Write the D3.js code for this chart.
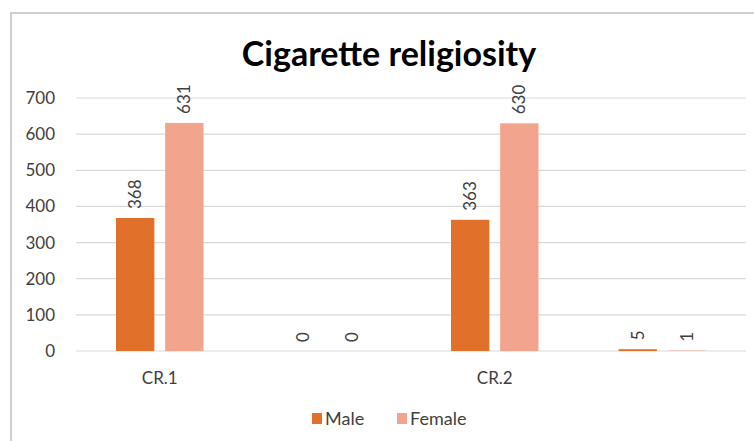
<!DOCTYPE html>
<html>
<head>
<meta charset="utf-8">
<script src="https://cdn.jsdelivr.net/npm/d3@7"></script>
<style>
  body { margin: 0; background: #fff; }
  svg { display: block; font-family: Lato, "Open Sans", sans-serif; }
</style>
</head>
<body>
<svg id="chart" width="754" height="441"></svg>
<script>
var categories = ["CR.1", "", "CR.2", ""];
var series = ["Male", "Female"];
var maleValues = [368, 0, 363, 5];
var femaleValues = [631, 0, 630, 1];
var yTicks = [0, 100, 200, 300, 400, 500, 600, 700];
var colors = {Male: "#e0702a", Female: "#f2a58c"};

var svg = d3.select("#chart");

// outer frame (right and bottom edges fall outside the picture)
svg.append("rect")
  .attr("x", 11).attr("y", 13)
  .attr("width", 800).attr("height", 500)
  .attr("fill", "#fff")
  .attr("stroke", "#bfbfbf")
  .attr("stroke-width", 1.5);

var plot = {left: 76, right: 746, top: 98, bottom: 351};

var x = d3.scaleBand()
  .domain(d3.range(categories.length))
  .range([plot.left, plot.right]);

var x1 = d3.scaleBand()
  .domain(series)
  .range([40, x.bandwidth() - 40])
  .paddingInner(0.22);

var y = d3.scaleLinear()
  .domain([0, 700])
  .range([plot.bottom, plot.top]);

// gridlines
svg.append("g")
  .selectAll("line")
  .data(yTicks)
  .enter().append("line")
    .attr("x1", plot.left).attr("x2", plot.right)
    .attr("y1", d => y(d)).attr("y2", d => y(d))
    .attr("stroke", "#d9d9d9")
    .attr("stroke-width", 1.2);

// y axis labels
var yAxis = svg.append("g")
  .attr("transform", "translate(" + plot.left + ",0)")
  .call(d3.axisLeft(y).tickValues(yTicks).tickSize(0).tickPadding(21));
yAxis.select(".domain").remove();
yAxis.selectAll("text")
  .attr("fill", "#404040")
  .style("font-size", "17px")
  .style("font-family", "Lato, sans-serif");

// x axis labels
var xAxis = svg.append("g")
  .attr("transform", "translate(0," + plot.bottom + ")")
  .call(d3.axisBottom(x).tickFormat(i => categories[i]).tickSize(0).tickPadding(21));
xAxis.select(".domain").remove();
xAxis.selectAll("text")
  .attr("fill", "#404040")
  .style("font-size", "17px")
  .style("font-family", "Lato, sans-serif");

var data = categories.map(function(c, i) {
  return {index: i, values: [
    {key: "Male", value: maleValues[i]},
    {key: "Female", value: femaleValues[i]}
  ]};
});

var groups = svg.append("g")
  .selectAll("g")
  .data(data)
  .enter().append("g")
    .attr("transform", d => "translate(" + x(d.index) + ",0)");

groups.selectAll("rect")
  .data(d => d.values)
  .enter().append("rect")
    .attr("x", d => x1(d.key))
    .attr("y", d => y(d.value))
    .attr("width", x1.bandwidth())
    .attr("height", d => y(0) - y(d.value))
    .attr("fill", d => colors[d.key]);

groups.selectAll("text")
  .data(d => d.values)
  .enter().append("text")
    .attr("transform", d => "translate(" + (x1(d.key) + x1.bandwidth() / 2) + "," + (y(d.value) - 9) + ") rotate(-90)")
    .attr("dy", "0.35em")
    .attr("text-anchor", "start")
    .attr("fill", "#404040")
    .style("font-size", "17px")
    .text(d => d.value);

// title
svg.append("text")
  .attr("x", 389).attr("y", 66)
  .attr("text-anchor", "middle")
  .attr("fill", "#000")
  .style("font-size", "34px")
  .style("font-weight", "bold")
  .text("Cigarette religiosity");

// legend
var legendPos = [{key: "Male", x: 312}, {key: "Female", x: 397}];
var legend = svg.append("g")
  .selectAll("g")
  .data(legendPos)
  .enter().append("g")
    .attr("transform", d => "translate(" + d.x + ",413)");
legend.append("rect")
  .attr("width", 10).attr("height", 11)
  .attr("fill", d => colors[d.key]);
legend.append("text")
  .attr("x", 13).attr("y", 12)
  .attr("fill", "#404040")
  .style("font-size", "18px")
  .text(d => d.key);
</script>
</body>
</html>
